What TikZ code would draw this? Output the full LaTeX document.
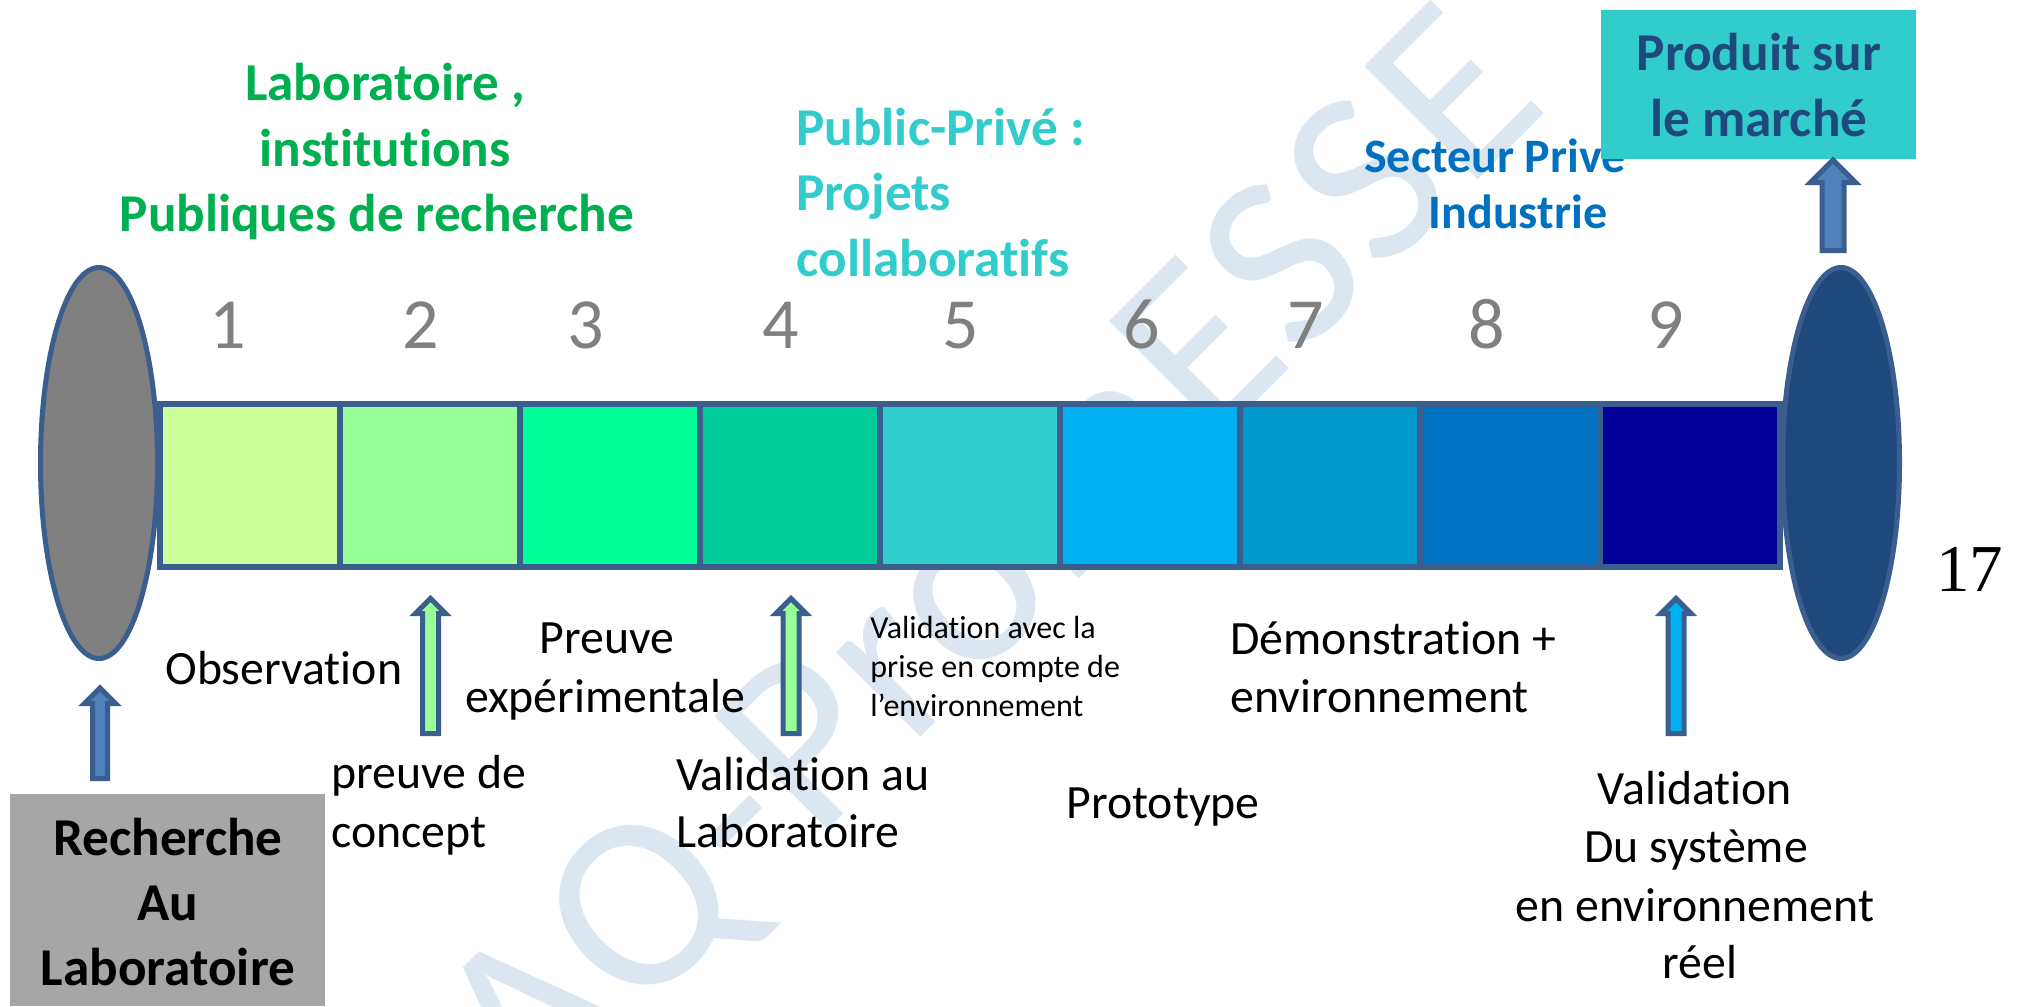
\documentclass[tikz,border=0pt]{standalone}
\usepackage{fontspec}
\setmainfont{Carlito}[Ligatures=NoCommon]
\newfontfamily\serifnum{Liberation Serif}
\newfontfamily\wmfont{Carlito}[LetterSpace=1.5]
\usetikzlibrary{shapes.geometric}
\definecolor{edge}{HTML}{3A5F8F}
\definecolor{armfill}{HTML}{4F81BD}
\definecolor{armgreen}{HTML}{99FF99}
\definecolor{armcyan}{HTML}{00B0F0}
\definecolor{wm}{HTML}{DCE6F1}
\definecolor{teal}{HTML}{33CCCC}
\definecolor{labgreen}{HTML}{00B050}
\definecolor{indblue}{HTML}{0070C0}
\definecolor{navy}{HTML}{1F497D}
\definecolor{numgray}{HTML}{808080}
\definecolor{labgray}{HTML}{A6A6A6}
\tikzset{
 cell/.style={rectangle,draw=edge,line width=2.85pt,minimum width=90pt,minimum height=81.5pt,inner sep=0pt,outer sep=0pt,anchor=north west},
 pod/.style={ellipse,draw=edge,line width=2.5pt,minimum width=58.5pt,minimum height=195.5pt,inner sep=0pt,outer sep=0pt},
 num/.style={font=\fontsize{36}{40}\selectfont,text=numgray,anchor=base,inner sep=0pt},
 body/.style={font=\fontsize{23.9}{29.5}\selectfont,text=black,inner sep=0pt,align=left,anchor=base west},
 small/.style={font=\fontsize{16}{19.5}\selectfont,text=black,inner sep=0pt,align=left,anchor=base west},
 head/.style={font=\bfseries\fontsize{26.6}{32.5}\selectfont,inner sep=0pt},
 subhead/.style={font=\bfseries\fontsize{24}{28}\selectfont,text=indblue,anchor=base,inner sep=0pt},
 upshape/.style={draw=edge,line width=2.5pt,miter limit=10,line join=miter},
}
% x, tip, head base, bottom, head half, shaft half, fill
\newcommand{\uparrowshape}[7]{\path[upshape,fill=#7] (#1,#2) -- (#1+#5,#3) -- (#1+#6,#3) -- (#1+#6,#4) -- (#1-#6,#4) -- (#1-#6,#3) -- (#1-#5,#3) -- cycle;}
\begin{document}
\begin{tikzpicture}[x=0.5pt,y=-0.5pt]
\useasboundingbox (0,0) rectangle (2017,1006);
\fill[white] (0,0) rectangle (2017,1006);
% watermark
\begin{scope}
\clip (0,0) rectangle (2017,1006);
\node[rotate=45,anchor=base east,inner sep=0pt,text=wm,font=\wmfont\fontsize{125}{130}\selectfont] (wmark) at (1552,106) {AQ-PromESSE};
\end{scope}
% headings
\node[head,text=labgreen,anchor=base] (h1a) at (385,101) {Laboratoire ,};
\node[head,text=labgreen,anchor=base] (h1b) at (385,166) {institutions};
\node[head,text=labgreen,anchor=base] (h1c) at (377,231) {Publiques de recherche};
\node[head,text=teal,anchor=base west] (h2a) at (796,146) {Public-Privé :};
\node[head,text=teal,anchor=base west] (h2b) at (796,210) {Projets};
\node[head,text=teal,anchor=base west] (h2c) at (796,276) {collaboratifs};
\node[subhead] (h3a) at (1495,172) {Secteur Prive};
\node[subhead] (h3b) at (1518,228) {Industrie};
% boxes
\node[rectangle,fill=teal,minimum width=157.5pt,minimum height=74.5pt,inner sep=0pt,outer sep=0pt,anchor=north west] (marketbox) at (1601,10) {};
\node[head,text=navy,anchor=base] (m1) at (1759,71) {Produit sur};
\node[head,text=navy,anchor=base] (m2) at (1759,136) {le marché};
\node[rectangle,fill=labgray,minimum width=157.5pt,minimum height=106pt,inner sep=0pt,outer sep=0pt,anchor=north west] (labbox) at (10,794) {};
\node[head,text=black,anchor=base] (r1) at (168,855) {Recherche};
\node[head,text=black,anchor=base] (r2) at (168,920) {Au};
\node[head,text=black,anchor=base] (r3) at (168,985) {Laboratoire};
% numbers
\foreach \n/\xx in {1/228,2/421,3/586,4/781,5/961,6/1142,7/1306,8/1487,9/1666}
  \node[num] (n\n) at (\xx,348) {\n};
% bar
\foreach \i/\c in {0/CCFF99,1/99FF99,2/00FF99,3/00CC99,4/33CCCC,5/00B0F0,6/0099CC,7/0070C0,8/000099}{
  \definecolor{cellc}{HTML}{\c}
  \node[cell,fill=cellc] (cell\i) at ({160+\i*180},404) {};
}
% ellipses
\node[pod,fill=numgray] (start) at (99,463) {};
\node[pod,fill=navy] (finish) at (1841,463) {};
% arrows
\uparrowshape{100}{688}{703.5}{778.5}{15.5}{7.5}{armfill}
\uparrowshape{430.5}{598.5}{613.5}{733.5}{15}{8}{armgreen}
\uparrowshape{791}{598.5}{613.5}{733.5}{15}{8}{armgreen}
\uparrowshape{1676}{598.5}{613.5}{733.5}{15}{8}{armcyan}
\uparrowshape{1833}{160}{182.5}{250.5}{22.5}{11}{armfill}
% labels
\node[body] (t1) at (165,684) {Observation};
\node[body,anchor=base] (t2a) at (607,653) {Preuve};
\node[body,anchor=base] (t2b) at (605,712) {expérimentale};
\node[body] (t3a) at (331,788) {preuve de};
\node[body] (t3b) at (331,847) {concept};
\node[body] (t4a) at (676,790) {Validation au};
\node[body] (t4b) at (676,847) {Laboratoire};
\node[small] (t5a) at (870,638) {Validation avec la};
\node[small] (t5b) at (870,677) {prise en compte de};
\node[small] (t5c) at (870,716) {l’environnement};
\node[body] (t6a) at (1230,654) {Démonstration +};
\node[body] (t6b) at (1230,712) {environnement};
\node[body] (t7) at (1066,818) {Prototype};
\node[body,anchor=base] (t8a) at (1695,804) {Validation};
\node[body,anchor=base] (t8b) at (1696,862) {Du système};
\node[body,anchor=base] (t8c) at (1695,921) {en environnement};
\node[body,anchor=base] (t8d) at (1700,978) {réel};
\node[font=\serifnum\fontsize{33.5}{36}\selectfont,anchor=base west,inner sep=0pt] (page) at (1936,591) {17};
\end{tikzpicture}
\end{document}
